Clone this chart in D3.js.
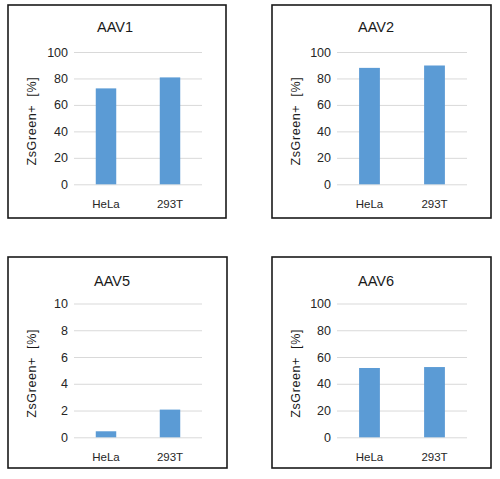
<!DOCTYPE html>
<html>
<head>
<meta charset="utf-8">
<script src="https://cdn.jsdelivr.net/npm/d3@7"></script>
<style>
  body { margin: 0; background: #fff; }
  text { font-family: "Liberation Sans", Arial, sans-serif; }
</style>
</head>
<body>
<div id="svg-div"></div>
<script>
const cells = ['HeLa', '293T'];
const serotypes = ['AAV1', 'AAV2', 'AAV5', 'AAV6'];
const aav1 = [72.5, 80.8];
const aav2 = [88.0, 89.8];
const aav5 = [0.45, 2.07];
const aav6 = [51.8, 52.5];
const ticks100 = [0, 20, 40, 60, 80, 100];
const ticks10 = [0, 2, 4, 6, 8, 10];
const yLabel = 'ZsGreen+  [%]';

const seriesValues = [aav1, aav2, aav5, aav6];
const seriesTicks = [ticks100, ticks100, ticks10, ticks100];

const width = 500;
const height = 479;

// frame of each small chart
const frames = [
    {x: 8, y: 5, w: 218, h: 213},
    {x: 272, y: 5, w: 219, h: 213},
    {x: 8, y: 257, w: 219, h: 211},
    {x: 272, y: 257, w: 219, h: 211}
];

const svg = d3.select('#svg-div')
              .append('svg')
                .attr('width', width)
                .attr('height', height);

serotypes.forEach(function(name, i) {
    const f = frames[i];
    const values = seriesValues[i];
    const ticks = seriesTicks[i];
    const top = i < 2 ? 47 : 46.5;
    const bottom = i < 2 ? 179.3 : 180.3;
    const left = i % 2 == 0 ? 66 : 65;
    const right = i % 2 == 0 ? 194 : 195;

    const g = svg.append('g')
                 .attr('transform', `translate(${f.x}, ${f.y})`);

    g.append('rect')
        .attr('x', 0)
        .attr('y', 0)
        .attr('width', f.w)
        .attr('height', f.h)
        .attr('fill', '#fff')
        .attr('stroke', '#1a1a1a')
        .attr('stroke-width', 1.6);

    const xScale = d3.scaleBand()
                     .domain(cells)
                     .range([left, right])
                     .paddingInner(0.68)
                     .paddingOuter(0.34);

    const yScale = d3.scaleLinear()
                     .domain([0, ticks[ticks.length - 1]])
                     .range([bottom, top]);

    // gridlines and tick labels
    const yAxis = g.append('g')
                   .attr('transform', `translate(${left}, 0)`)
                   .call(d3.axisLeft(yScale)
                           .tickValues(ticks)
                           .tickSize(-(right - left))
                           .tickPadding(6));
    yAxis.select('.domain').remove();
    yAxis.selectAll('.tick line')
           .attr('stroke', '#d9d9d9')
           .attr('stroke-width', 1);
    yAxis.selectAll('.tick text')
           .attr('fill', '#262626')
           .attr('font-size', '12.5px')
           .attr('font-family', '"Liberation Sans", Arial, sans-serif');

    // bars
    g.selectAll('rect.bar')
     .data(values)
     .enter()
        .append('rect')
            .attr('class', 'bar')
            .attr('x', (d, j) => xScale(cells[j]))
            .attr('y', (d) => yScale(d))
            .attr('width', xScale.bandwidth())
            .attr('height', (d) => yScale(0) - yScale(d))
            .attr('fill', '#5b9bd5');

    // category labels
    g.selectAll('text.cat')
     .data(cells)
     .enter()
        .append('text')
            .attr('class', 'cat')
            .attr('x', (d) => xScale(d) + xScale.bandwidth() / 2)
            .attr('y', bottom + 24)
            .attr('text-anchor', 'middle')
            .attr('font-size', '11.5px')
            .attr('fill', '#262626')
            .text((d) => d);

    // title
    g.append('text')
        .attr('x', i == 0 ? 107 : 104)
        .attr('y', i < 2 ? 27 : 29)
        .attr('text-anchor', 'middle')
        .attr('font-size', '14.5px')
        .attr('fill', '#1a1a1a')
        .text(name);

    // y-axis label
    g.append('text')
        .attr('transform', `translate(${28}, ${(top + bottom) / 2 + 3}) rotate(-90)`)
        .attr('text-anchor', 'middle')
        .attr('font-size', '12.5px')
        .attr('letter-spacing', '0.6px')
        .attr('fill', '#1a1a1a')
        .style('white-space', 'pre')
        .text(yLabel);
});
</script>
</body>
</html>
